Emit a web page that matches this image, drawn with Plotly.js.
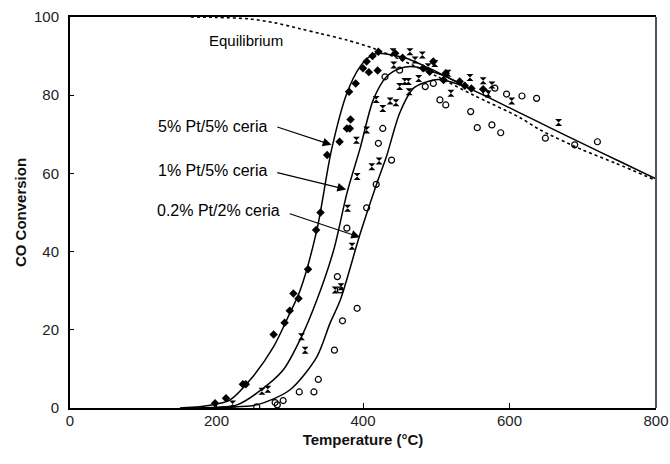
<!DOCTYPE html>
<html>
<head>
<meta charset="utf-8">
<script src="https://cdn.plot.ly/plotly-3.0.1.min.js"></script>
<style>html,body{margin:0;padding:0;background:#fff;}#chart{width:670px;height:464px;}</style>
</head>
<body>
<div id="chart"></div>
<script>
// Equilibrium curve (dotted)
const eqX = [165, 200, 246, 280, 314, 341, 378, 414, 450, 500, 551, 614, 642, 700, 745, 800];
const eqY = [100, 99.9, 99.5, 98.5, 97.0, 95.8, 94.1, 92.0, 89.2, 84.9, 80.0, 74.3, 71.1, 66.0, 62.6, 58.2];

// Model curve: 5% Pt/5% ceria
const aX = [150, 177, 200, 218, 246, 278, 300, 314, 337, 357, 378, 396, 410, 421, 440, 460, 496, 514, 546, 578, 614, 655, 700, 750, 800];
const aY = [0, 0.3, 1.0, 2.0, 7.2, 15.7, 24.2, 30, 45.5, 66, 80.5, 87.3, 90, 90.7, 90.3, 89.4, 86.4, 84.7, 81.7, 78.8, 75.5, 71.7, 67.6, 63.1, 58.6];

// Model curve: 1% Pt/5% ceria
const bX = [165, 200, 228, 255, 291, 316, 337, 360, 378, 396, 414, 432, 451, 469, 492, 514, 546];
const bY = [0, 0.2, 0.8, 3.8, 9.7, 18.2, 27.6, 40.4, 54.9, 66.4, 78.8, 84.7, 86.9, 87.3, 86.2, 84.7, 81.7];

// Model curve: 0.2% Pt/2% ceria
const cX = [180, 215, 255, 300, 337, 355, 369, 396, 419, 432, 450, 469, 496, 510, 530, 546];
const cY = [0, 0.2, 0.8, 4.6, 13.1, 21.7, 27.6, 44.5, 57.5, 64.3, 75.4, 81.8, 83.9, 83.9, 82.8, 81.7];

// Data: 5% Pt/5% ceria (filled diamonds)
const dX = [198, 213, 236, 240, 278, 293, 300, 305, 312, 325, 336, 342, 351, 368, 378, 382, 383, 381, 390, 400, 405, 408, 413, 420, 421, 444, 454, 482, 491, 496, 513, 510, 532, 539, 548, 564];
const dY = [1.2, 2.5, 6.1, 6.1, 18.8, 21.8, 24.9, 29.3, 28, 35.5, 45.5, 50, 64.7, 68.1, 71.5, 71.5, 73.8, 80.9, 83, 86.9, 88.6, 85.9, 90, 86.3, 91.1, 90.7, 89.6, 86.9, 86, 88.6, 85.6, 83.9, 83.5, 82.4, 81.7, 81.5];

// Data: 1% Pt/5% ceria (hourglass)
const hX = [222, 262, 270, 316, 321, 362, 370, 379, 385, 391, 392, 405, 412, 418, 422, 427, 437, 441, 442, 445, 450, 457, 462, 463, 464, 471, 476, 481, 489, 498, 516, 520, 546, 564, 571, 576, 603, 667];
const hY = [1.0, 4.3, 4.8, 18.2, 14.8, 30.2, 31, 51.1, 41.4, 68.5, 59.2, 71.1, 61.7, 78.9, 63.2, 76.6, 78.5, 91.1, 87.7, 78.1, 82.2, 83.5, 83.5, 80.9, 91.1, 89, 84.3, 90.3, 87.3, 88.1, 85.6, 80.5, 84.5, 83.7, 80.3, 82.6, 78.5, 73];

// Data: 0.2% Pt/2% ceria (open circles)
const oX = [255, 280, 283, 291, 313, 333, 339, 361, 372, 392, 365, 369, 378, 405, 418, 421, 427, 439, 430, 450, 485, 496, 505, 513, 547, 556, 568, 576, 580, 588, 596, 617, 637, 649, 689, 720];
const oY = [0.3, 1.4, 0.8, 1.9, 4.1, 4.1, 7.3, 14.8, 22.3, 25.5, 33.6, 30.2, 46, 51.2, 57.2, 67.7, 71.5, 63.4, 84.7, 86.4, 82.2, 83, 78.8, 77.5, 75.8, 71.7, 80.6, 72.4, 81.8, 70.4, 80.3, 79.8, 79.2, 69, 67.3, 68.1];

const xTicks = [0, 200, 400, 600, 800];
const yTicks = [0, 20, 40, 60, 80, 100];

const FONT = 'Liberation Sans, Arial, Helvetica, sans-serif';
const lineStyle = {color: '#000', width: 1.5, shape: 'spline', smoothing: 0.8};

const traces = [
  {x: eqX, y: eqY, mode: 'lines', line: {color: '#000', width: 1.6, dash: 'dot', shape: 'spline', smoothing: 0.8}, name: 'Equilibrium'},
  {x: aX, y: aY, mode: 'lines', line: lineStyle, name: '5% Pt/5% ceria model'},
  {x: bX, y: bY, mode: 'lines', line: lineStyle, name: '1% Pt/5% ceria model'},
  {x: cX, y: cY, mode: 'lines', line: lineStyle, name: '0.2% Pt/2% ceria model'},
  {x: dX, y: dY, mode: 'markers', marker: {symbol: 'diamond', size: 6.5, color: '#000'}, name: '5% Pt/5% ceria'},
  {x: hX, y: hY, mode: 'markers', marker: {symbol: 'hourglass', size: 7, color: '#000'}, name: '1% Pt/5% ceria'},
  {x: oX, y: oY, mode: 'markers', marker: {symbol: 'circle-open', size: 6, color: '#000', line: {width: 1.2, color: '#000'}}, name: '0.2% Pt/2% ceria'}
];

const arrowBase = {xref: 'x', yref: 'y', axref: 'x', ayref: 'y', text: '', showarrow: true, arrowhead: 2, arrowsize: 1.6, arrowwidth: 1.1, arrowcolor: '#000'};
const labelBase = {xref: 'x', yref: 'y', showarrow: false, xanchor: 'right', yanchor: 'middle', font: {family: FONT, size: 16, color: '#000'}};

const layout = {
  width: 670, height: 464,
  margin: {l: 70, r: 14, t: 17, b: 56},
  paper_bgcolor: '#fff', plot_bgcolor: '#fff',
  showlegend: false,
  font: {family: FONT, size: 14, color: '#222'},
  xaxis: {
    range: [0, 800], tickvals: xTicks, ticktext: xTicks.map(String),
    ticks: 'inside', ticklen: 5, tickwidth: 1, tickcolor: '#000',
    showline: true, linecolor: '#000', linewidth: 2, mirror: true,
    showgrid: false, zeroline: false, ticklabelstandoff: -2,
    tickfont: {family: FONT, size: 15, color: '#222'},
    title: {text: '<b>Temperature (°C)</b>', font: {family: FONT, size: 15, color: '#111'}, standoff: 6}
  },
  yaxis: {
    range: [0, 100], tickvals: yTicks, ticktext: yTicks.map(String),
    ticks: 'inside', ticklen: 4, tickwidth: 1, tickcolor: '#000',
    showline: true, linecolor: '#000', linewidth: 2, mirror: false,
    showgrid: false, zeroline: false, ticklabelstandoff: 6,
    tickfont: {family: FONT, size: 15, color: '#222'},
    title: {text: '<b>CO Conversion</b>', font: {family: FONT, size: 15, color: '#111'}, standoff: 4}
  },
  shapes: [
    {type: 'line', xref: 'paper', yref: 'paper', x0: 1, x1: 1, y0: 0, y1: 1, line: {color: '#555', width: 2}}
  ],
  annotations: [
    Object.assign({}, labelBase, {x: 293, y: 94.1, text: 'Equilibrium', font: {family: FONT, size: 15, color: '#000'}}),
    Object.assign({}, labelBase, {x: 272, y: 72.0, text: '5% Pt/5% ceria'}),
    Object.assign({}, labelBase, {x: 272, y: 60.8, text: '1% Pt/5% ceria'}),
    Object.assign({}, labelBase, {x: 289, y: 50.4, text: '0.2% Pt/2% ceria'}),
    Object.assign({}, arrowBase, {x: 357, y: 67.3, ax: 281, ay: 72.0}),
    Object.assign({}, arrowBase, {x: 377, y: 55.9, ax: 281, ay: 60.3}),
    Object.assign({}, arrowBase, {x: 396, y: 43.7, ax: 298, ay: 49.8})
  ]
};

Plotly.newPlot('chart', traces, layout, {staticPlot: true, displayModeBar: false});
</script>
</body>
</html>
